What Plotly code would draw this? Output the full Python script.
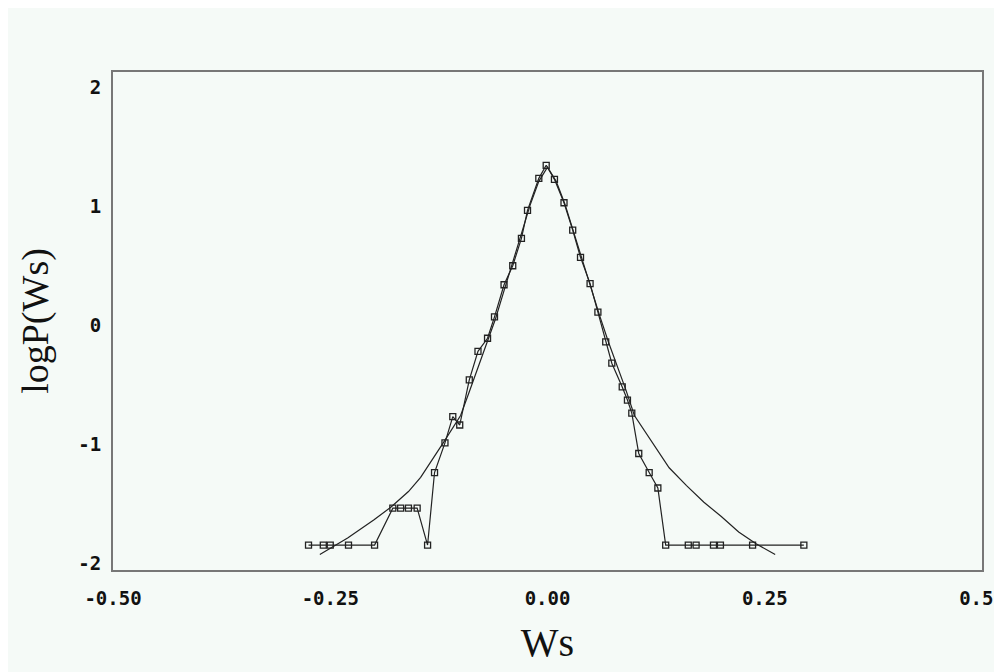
import plotly.graph_objects as go

# Observed data (Ws, logP)
data_x = [-0.275, -0.258, -0.250, -0.229, -0.199, -0.178, -0.169, -0.160, -0.150, -0.138,
          -0.130, -0.118, -0.109, -0.101, -0.090, -0.080, -0.069, -0.061, -0.050, -0.040,
          -0.030, -0.023, -0.010, -0.0015, 0.008, 0.019, 0.029, 0.038, 0.049, 0.058,
          0.067, 0.074, 0.086, 0.092, 0.097, 0.105, 0.117, 0.127, 0.136, 0.162,
          0.171, 0.191, 0.199, 0.236, 0.295]
data_y = [-1.85, -1.85, -1.85, -1.85, -1.85, -1.54, -1.54, -1.54, -1.54, -1.85,
          -1.24, -0.99, -0.77, -0.84, -0.46, -0.22, -0.11, 0.07, 0.34, 0.50,
          0.73, 0.966, 1.235, 1.345, 1.227, 1.03, 0.80, 0.57, 0.35, 0.11,
          -0.14, -0.32, -0.52, -0.63, -0.74, -1.08, -1.24, -1.37, -1.85, -1.85,
          -1.85, -1.85, -1.85, -1.85, -1.85]

# Fitted curve
fit_x = [-0.262, -0.23, -0.20, -0.18, -0.16, -0.146, -0.12, -0.10, -0.09, -0.08, -0.07,
         -0.06, -0.05, -0.04, -0.03, -0.02, -0.01, 0.0, 0.01, 0.02, 0.03, 0.04, 0.05,
         0.06, 0.07, 0.08, 0.09, 0.10, 0.12, 0.14, 0.16, 0.18, 0.20, 0.22, 0.24, 0.262]
fit_y = [-1.93, -1.79, -1.64, -1.53, -1.40, -1.28, -0.99, -0.76, -0.56, -0.36, -0.16,
         0.05, 0.29, 0.52, 0.77, 1.01, 1.21, 1.33, 1.21, 1.02, 0.78, 0.54, 0.30,
         0.08, -0.14, -0.34, -0.54, -0.76, -0.98, -1.20, -1.35, -1.49, -1.61, -1.74, -1.84, -1.93]

x_ticks = [-0.5, -0.25, 0.0, 0.25, 0.5]
x_tick_text = ["-0.50", "-0.25", "0.00", "0.25", "0.50"]
y_ticks = [-2, -1, 0, 1, 2]
y_tick_text = ["-2", "-1", "0", "1", "2"]

bg = "#f5faf7"
tick_font = dict(family="DejaVu Sans Mono", size=19, color="#111", weight="bold")

fig = go.Figure()
fig.add_trace(go.Scatter(x=fit_x, y=fit_y, mode="lines",
                         line=dict(color="#222", width=1.2), showlegend=False))
fig.add_trace(go.Scatter(x=data_x, y=data_y, mode="lines+markers",
                         line=dict(color="#222", width=1.2),
                         marker=dict(symbol="square-open", size=6, color="#222",
                                     line=dict(width=1.3)),
                         showlegend=False))

fig.update_layout(
    width=994, height=664,
    margin=dict(l=105, r=20, t=64, b=102),
    paper_bgcolor=bg, plot_bgcolor=bg,
    xaxis=dict(range=[-0.5, 0.5], tickvals=x_ticks, ticktext=x_tick_text,
               showgrid=False, zeroline=False, showline=True, mirror=True,
               linecolor="#777", linewidth=2, ticks="", ticklabelstandoff=10,
               ticklabeloverflow="allow", automargin=False,
               tickfont=tick_font,
               title=dict(text="Ws", font=dict(family="Liberation Serif", size=40, color="#111"),
                          standoff=20)),
    yaxis=dict(range=[-2.06, 2.13], tickvals=y_ticks, ticktext=y_tick_text,
               showgrid=False, zeroline=False, showline=True, mirror=True,
               linecolor="#777", linewidth=2, ticks="", ticklabelstandoff=6,
               ticklabeloverflow="allow", automargin=False,
               tickfont=tick_font,
               title=dict(text="logP(Ws)", font=dict(family="Liberation Serif", size=38, color="#111"),
                          standoff=18)),
)

fig.write_html("out.html")
